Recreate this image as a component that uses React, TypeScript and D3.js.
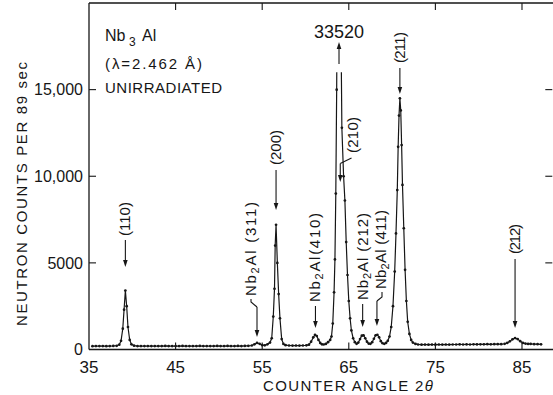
import * as d3 from "d3";

// 2-theta scan points and neutron counts
const angles = [
  35.4, 35.8, 36.2, 36.6, 37.0, 37.4, 37.8, 38.2, 38.5, 38.7, 38.9, 39.05, 39.2, 39.35, 39.5, 39.7, 39.9,
  40.2, 40.6, 41.0, 41.4, 41.8, 42.2, 42.6, 43.0, 43.4, 43.8, 44.2, 44.6, 45.0, 45.4, 45.8, 46.2, 46.6,
  47.0, 47.4, 47.8, 48.2, 48.6, 49.0, 49.4, 49.8, 50.2, 50.6, 51.0, 51.4, 51.8, 52.2, 52.6, 53.0, 53.4,
  53.8, 54.1, 54.4, 54.7, 55.0, 55.3, 55.6, 55.9, 56.1, 56.28, 56.42, 56.5, 56.6, 56.75, 56.9, 57.05,
  57.25, 57.45, 57.7, 58.1, 58.5, 58.9, 59.3, 59.7, 60.1, 60.4, 60.65, 60.9, 61.1, 61.3, 61.5, 61.7, 61.9,
  62.1, 62.35, 62.6, 62.85, 63.0, 63.15, 63.3, 63.4, 63.5, 63.6, 63.8, 64.0, 64.2, 64.4, 64.55, 64.7,
  64.85, 65.0, 65.15, 65.3, 65.5, 65.7, 65.9, 66.1, 66.3, 66.5, 66.7, 66.9, 67.1, 67.3, 67.5, 67.7, 67.9,
  68.1, 68.3, 68.5, 68.7, 68.9, 69.1, 69.3, 69.5, 69.7, 69.9, 70.1, 70.3, 70.45, 70.6, 70.7, 70.8, 70.9,
  71.0, 71.1, 71.2, 71.35, 71.5, 71.65, 71.8, 72.0, 72.2, 72.4, 72.7, 73.0, 73.4, 73.8, 74.2, 74.6, 75.0,
  75.4, 75.8, 76.2, 76.6, 77.0, 77.4, 77.8, 78.2, 78.6, 79.0, 79.4, 79.8, 80.2, 80.6, 81.0, 81.4, 81.8,
  82.2, 82.6, 83.0, 83.3, 83.6, 83.9, 84.2, 84.5, 84.8, 85.1, 85.4, 85.7, 86.0, 86.4, 86.8, 87.2,
];
const counts = [
  190, 200, 195, 200, 190, 200, 205, 215, 280, 500, 1200, 2300, 3400, 2500, 1300, 550, 300,
  220, 200, 195, 200, 195, 200, 200, 195, 200, 205, 200, 195, 200, 200, 205, 200, 195,
  200, 200, 205, 200, 200, 195, 200, 205, 200, 200, 205, 200, 200, 205, 200, 205, 210,
  230, 300, 380, 330, 250, 240, 300, 400, 650, 1900, 3500, 6000, 7200, 5000, 3200, 1800,
  600, 320, 250, 230, 225, 230, 225, 230, 240, 280, 450, 700, 850, 780, 550, 380, 300,
  290, 320, 420, 550, 750, 1500, 3300, 5200, 9000, 15000, 33520, 24000, 12800, 10000, 8600, 6200,
  4300, 2800, 1800, 1100, 650, 420, 330, 400, 600, 800, 820, 650, 450, 340, 330, 420, 620,
  820, 850, 700, 480, 360, 330, 380, 500, 750, 1300, 2500, 4500, 6700, 9200, 11700, 13500, 14500,
  13800, 11800, 9500, 7000, 4600, 2800, 1600, 900, 550, 400, 320, 290, 280, 285, 280, 285, 280,
  290, 285, 290, 285, 290, 290, 295, 290, 295, 290, 300, 295, 300, 300, 305, 300, 305,
  310, 310, 330, 380, 470, 590, 660, 600, 480, 380, 340, 320, 320, 310, 310, 300,
];

const xTicks = [35, 45, 55, 65, 75, 85];
const yTicks = [0, 5000, 10000, 15000];
const yTickLabels = ["0", "5000", "10,000", "15,000"];

// reflection labels and the peak angle they point at
const peakNames = ["(110)", "(200)", " (311)", "(410)", "(210)", " (212)", " (411)", "(211)", "(212)"];
const peakAngles = [39.2, 56.6, 54.4, 61.15, 63.9, 66.6, 68.25, 70.9, 84.2];
const offScaleAngle = 63.87;
const offScaleLabel = "33520";

const FONT = "'Liberation Sans', Arial, sans-serif";
const INK = "#161616";

function Arrow({ x1, y1, x2, y2 }: { x1: number; y1: number; x2: number; y2: number }) {
  const a = Math.atan2(y2 - y1, x2 - x1);
  const L = 7, w = 2.3;
  const bx = x2 - L * Math.cos(a), by = y2 - L * Math.sin(a);
  const p = `M${x2},${y2}L${bx - w * Math.sin(a)},${by + w * Math.cos(a)}L${bx + w * Math.sin(a)},${by - w * Math.cos(a)}Z`;
  return (
    <g>
      <line x1={x1} y1={y1} x2={bx} y2={by} stroke={INK} strokeWidth={1.1} />
      <path d={p} fill={INK} />
    </g>
  );
}

function VLabel({ cx, y0, len, children }: { cx: number; y0: number; len: number; children: any }) {
  return (
    <text
      transform={`translate(${cx + 5},${y0}) rotate(-90)`}
      fontSize={15}
      fontFamily={FONT}
      fill={INK}
      textLength={len}
      lengthAdjust="spacing"
    >
      {children}
    </text>
  );
}

function Nb2Al({ hkl }: { hkl: string }) {
  return (
    <>
      Nb
      <tspan fontSize={11} dy={3}>2</tspan>
      <tspan dy={-3}>Al{hkl}</tspan>
    </>
  );
}

export default function App() {
  const width = 553, height = 395;
  const x = d3.scaleLinear().domain([35, 88.5]).range([89, 552.3]);
  const y = d3.scaleLinear().domain([0, 20000]).range([349.5, 3]);
  const pts = angles.map((a, i) => [a, counts[i]] as [number, number]);
  const line = d3.line<[number, number]>().x((d) => x(d[0])).y((d) => y(d[1]));
  const clipTop = y(16000);
  const [x0, x1] = x.range();
  const [yb, yt] = y.range();
  const px = peakAngles.map((a) => x(a));

  return (
    <svg
      width={width}
      height={height}
      style={{ position: "absolute", left: 0, top: 0, background: "#fff" }}
    >
      <defs>
        <clipPath id="plotClip">
          <rect x={x0} y={clipTop} width={x1 - x0} height={yb - clipTop} />
        </clipPath>
      </defs>

      {/* frame */}
      <g stroke={INK} strokeWidth={1.3}>
        <line x1={x0} x2={x0} y1={yt} y2={yb} />
        <line x1={x0} x2={width} y1={yt} y2={yt} />
        <line x1={x0} x2={width} y1={yb} y2={yb} />
      </g>
      <g stroke={INK} strokeWidth={1.1}>
        {xTicks.slice(1).map((t) => (
          <g key={t}>
            <line x1={x(t)} x2={x(t)} y1={yb} y2={yb - 7} />
            <line x1={x(t)} x2={x(t)} y1={yt} y2={yt + 7} />
          </g>
        ))}
        {yTicks.slice(1).map((t) => (
          <g key={t}>
            <line x1={x0} x2={x0 + 7} y1={y(t)} y2={y(t)} />
            <line x1={x1 - 7} x2={x1} y1={y(t)} y2={y(t)} />
          </g>
        ))}
      </g>

      {/* tick labels */}
      <g fontFamily={FONT} fill={INK}>
        {xTicks.map((t) => (
          <text key={t} x={x(t)} y={373} fontSize={17} textAnchor="middle">
            {t}
          </text>
        ))}
        {yTicks.map((t, i) => (
          <text key={t} x={83} y={y(t)} dy="0.36em" fontSize={16} textAnchor="end">
            {yTickLabels[i]}
          </text>
        ))}
        <text x={263} y={391} fontSize={15} textLength={170} lengthAdjust="spacing">
          COUNTER ANGLE  2<tspan fontStyle="italic">θ</tspan>
        </text>
        <text
          transform="translate(27,326) rotate(-90)"
          fontSize={15}
          textLength={264}
          lengthAdjust="spacing"
        >
          NEUTRON COUNTS PER 89 sec
        </text>
      </g>

      {/* sample info */}
      <g fontFamily={FONT} fill={INK}>
        <text x={105} y={41} fontSize={16}>Nb</text>
        <text x={129} y={46} fontSize={12}>3</text>
        <text x={142} y={41} fontSize={16}>Al</text>
        <text x={105} y={69} fontSize={15} textLength={97} lengthAdjust="spacing">
          (λ=2.462 Å)
        </text>
        <text x={105} y={93} fontSize={15} textLength={117} lengthAdjust="spacing">
          UNIRRADIATED
        </text>
      </g>

      {/* data */}
      <g clipPath="url(#plotClip)">
        <path d={line(pts) ?? ""} fill="none" stroke={INK} strokeWidth={1.2} />
        {pts.map((d, i) => (
          <circle key={i} cx={x(d[0])} cy={y(d[1])} r={1.35} fill={INK} />
        ))}
      </g>

      {/* annotations */}
      <VLabel cx={px[0]} y0={236} len={34}>{peakNames[0]}</VLabel>
      <Arrow x1={px[0]} y1={240} x2={px[0]} y2={267} />

      <VLabel cx={px[1]} y0={165} len={35}>{peakNames[1]}</VLabel>
      <Arrow x1={px[1]} y1={170} x2={px[1]} y2={210} />

      <VLabel cx={251} y0={296} len={94}><Nb2Al hkl={peakNames[2]} /></VLabel>
      <path d={`M251,299L251,302L${px[2]},307`} fill="none" stroke={INK} strokeWidth={1.1} />
      <Arrow x1={px[2]} y1={307} x2={px[2]} y2={337} />

      <VLabel cx={px[3]} y0={302} len={89}><Nb2Al hkl={peakNames[3]} /></VLabel>
      <Arrow x1={px[3]} y1={306} x2={px[3]} y2={328} />

      <text x={x(offScaleAngle)} y={38} fontSize={18} fontFamily={FONT} fill={INK} textAnchor="middle">
        {offScaleLabel}
      </text>
      <Arrow x1={x(offScaleAngle)} y1={64} x2={x(offScaleAngle)} y2={42} />

      <VLabel cx={353} y0={153} len={36}>{peakNames[4]}</VLabel>
      <path d={`M351.5,158L${px[4] + 1},163.5`} fill="none" stroke={INK} strokeWidth={1.1} />
      <Arrow x1={px[4] + 1} y1={163.5} x2={px[4] + 1} y2={182} />

      <VLabel cx={px[5]} y0={300} len={87}><Nb2Al hkl={peakNames[5]} /></VLabel>
      <Arrow x1={px[5]} y1={304} x2={px[5]} y2={327} />

      <VLabel cx={381} y0={289} len={79}><Nb2Al hkl={peakNames[6]} /></VLabel>
      <path d={`M382,292L382,297L${px[6]},301`} fill="none" stroke={INK} strokeWidth={1.1} />
      <Arrow x1={px[6]} y1={301} x2={px[6]} y2={326} />

      <VLabel cx={px[7]} y0={63} len={31}>{peakNames[7]}</VLabel>
      <Arrow x1={px[7]} y1={68} x2={px[7]} y2={94} />

      <VLabel cx={px[8]} y0={254} len={30}>{peakNames[8]}</VLabel>
      <Arrow x1={px[8]} y1={259} x2={px[8]} y2={328} />
    </svg>
  );
}
